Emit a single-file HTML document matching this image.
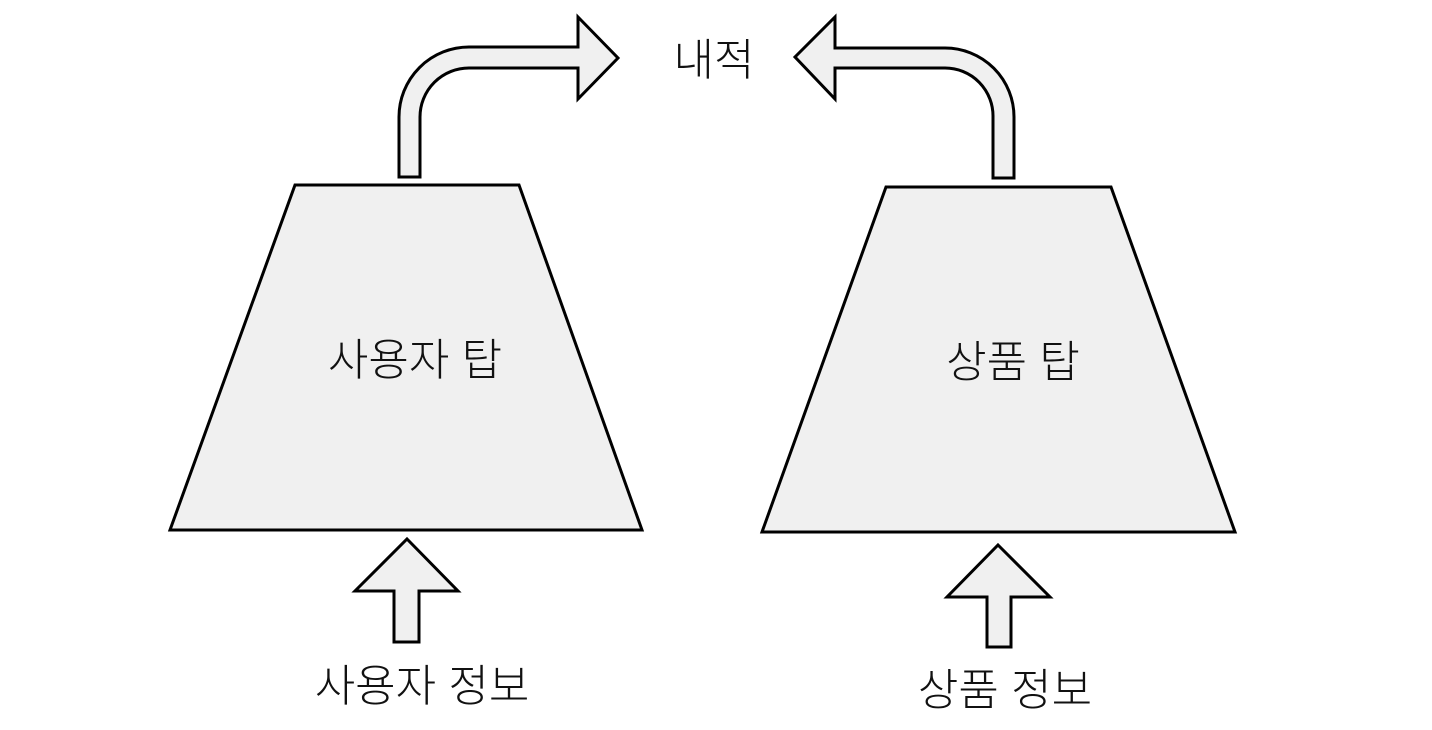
<!DOCTYPE html>
<html><head><meta charset="utf-8"><style>
html,body{margin:0;padding:0;background:#fff;}
svg{display:block;}
text{font-family:"Liberation Sans","Noto Sans CJK KR",sans-serif;font-size:44px;font-weight:300;fill:#111;text-anchor:middle;}
</style></head><body>
<svg width="1432" height="730" viewBox="0 0 1432 730">
<g fill="#f0f0f0" stroke="#000" stroke-width="3" stroke-linejoin="miter">
<polygon points="295,185 519,185 642,530 170,530"/>
<polygon points="886,187 1111,187 1235,532 762,532"/>
<polygon points="407,539 458,591 419,591 419,642 394,642 394,591 355,591"/>
<polygon points="998,545 1050,597 1011,597 1011,647 987,647 987,597 947,597"/>
<path d="M399,177 L399,117 A70,70 0 0 1 469,47 L578,47 L578,17 L618,58 L578,99 L578,68 L469,68 A49,49 0 0 0 420,117 L420,177 Z"/>
<path d="M1014,178 L1014,117 A69,69 0 0 0 945,48 L835,48 L835,17 L795,57 L835,99 L835,68 L945,68 A48,48 0 0 1 993,117 L993,178 Z"/>
</g>
<text x="714" y="75">내적</text>
<text x="415" y="375">사용자 탑</text>
<text x="1013" y="377">상품 탑</text>
<text x="422" y="701">사용자 정보</text>
<text x="1005" y="705">상품 정보</text>
</svg>
</body></html>
